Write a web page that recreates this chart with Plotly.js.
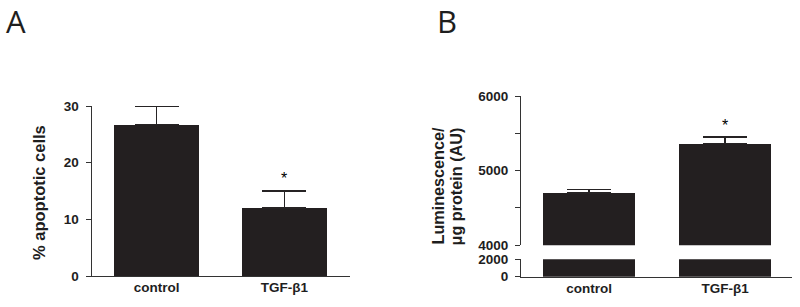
<!DOCTYPE html>
<html>
<head>
<meta charset="utf-8">
<script src="https://cdn.plot.ly/plotly-3.0.1.min.js"></script>
<style>html,body{margin:0;padding:0;background:#fff;}#chart{width:800px;height:307px;}</style>
</head>
<body>
<div id="chart"></div>
<script>
// ---- data ----
const categories = ['control', 'TGF-β1'];
const apoptotic = [26.7, 12.0];
const apoptoticErr = [3.3, 3.0];
const luminescence = [4700, 5360];
const luminescenceErr = [45, 90];
const significant = [false, true];

// ---- styles ----
const BAR = '#231f20';
const AX = '#333333';
const TXT = '#1e1e1e';
const FONT = 'Liberation Sans, Arial, sans-serif';
const W = 800, H = 307;
const px = v => v / W;
const py = v => 1 - v / H;

function errCfg(arr) {
  return {type: 'data', symmetric: false, array: arr, arrayminus: arr.map(() => 0),
          color: '#262324', thickness: 1.2, width: 22, visible: true};
}

const traces = [
  {type: 'bar', x: categories, y: apoptotic, xaxis: 'x', yaxis: 'y', width: 0.67,
   marker: {color: BAR, line: {width: 0}}, error_y: errCfg(apoptoticErr), hoverinfo: 'skip'},
  {type: 'bar', x: categories, y: luminescence, xaxis: 'x2', yaxis: 'y2', width: 0.67,
   marker: {color: BAR, line: {width: 0}}, error_y: errCfg(luminescenceErr), hoverinfo: 'skip'},
  {type: 'bar', x: categories, y: luminescence, xaxis: 'x2', yaxis: 'y3', width: 0.67,
   marker: {color: BAR, line: {width: 0}}, hoverinfo: 'skip'}
];

const tickFont = {family: FONT, size: 13.5, color: TXT, weight: 'bold'};
const xTickFont = {family: FONT, size: 13.5, color: TXT, weight: 'bold'};

const annotations = [
  {text: 'A', xref: 'paper', yref: 'paper', x: px(16), y: py(21), xanchor: 'center', yanchor: 'middle',
   showarrow: false, font: {family: 'Open Sans, Noto Sans, sans-serif', size: 31, color: TXT}},
  {text: 'B', xref: 'paper', yref: 'paper', x: px(446.5), y: py(21), xanchor: 'center', yanchor: 'middle',
   showarrow: false, font: {family: 'Open Sans, Noto Sans, sans-serif', size: 31, color: TXT}},
  {text: '% apoptotic cells', xref: 'paper', yref: 'paper', x: px(39), y: py(193), textangle: -90,
   xanchor: 'center', yanchor: 'middle', showarrow: false,
   font: {family: FONT, size: 16.5, color: TXT, weight: 'bold'}},
  {text: 'Luminescence/', xref: 'paper', yref: 'paper', x: px(437), y: py(247), textangle: -90,
   xanchor: 'center', yanchor: 'bottom', showarrow: false,
   font: {family: FONT, size: 16.2, color: TXT, weight: 'bold'}},
  {text: 'μg protein (AU)', xref: 'paper', yref: 'paper', x: px(455.5), y: py(248), textangle: -90,
   xanchor: 'center', yanchor: 'bottom', showarrow: false,
   font: {family: FONT, size: 16.2, color: TXT, weight: 'bold'}}
];

categories.forEach((c, i) => {
  if (!significant[i]) return;
  annotations.push({text: '*', xref: 'x', yref: 'y', x: c, y: apoptotic[i] + apoptoticErr[i],
    xanchor: 'center', yanchor: 'middle', yshift: 13, showarrow: false,
    font: {family: FONT, size: 16, color: '#000'}});
  annotations.push({text: '*', xref: 'x2', yref: 'y2', x: c, y: luminescence[i] + luminescenceErr[i],
    xanchor: 'center', yanchor: 'middle', yshift: 12, showarrow: false,
    font: {family: FONT, size: 16, color: '#000'}});
});

const layout = {
  width: W, height: H,
  margin: {l: 0, r: 0, t: 0, b: 0, pad: 0},
  paper_bgcolor: '#fff', plot_bgcolor: 'rgba(0,0,0,0)',
  showlegend: false,
  bargap: 0,
  xaxis: {domain: [px(91.5), px(350)], anchor: 'y', type: 'category', range: [-0.508, 1.512],
          showline: true, linecolor: AX, linewidth: 1, ticks: '', showgrid: false, zeroline: false,
          tickfont: xTickFont, ticklabelstandoff: -1, fixedrange: true},
  yaxis: {domain: [py(276), py(106)], anchor: 'x', range: [0, 30], tickvals: [0, 10, 20, 30],
          showline: true, linecolor: AX, linewidth: 1, ticks: 'outside', ticklen: 5, tickcolor: AX,
          tickwidth: 1, showgrid: false, zeroline: false, tickfont: tickFont, ticklabelstandoff: 4,
          fixedrange: true},
  xaxis2: {domain: [px(521), px(791.7)], anchor: 'y3', type: 'category', range: [-0.5, 1.49],
           showline: true, linecolor: AX, linewidth: 1, ticks: '', showgrid: false, zeroline: false,
           tickfont: xTickFont, ticklabelstandoff: -1, fixedrange: true},
  yaxis2: {domain: [py(245.3), py(96)], anchor: 'x2', range: [4000, 6000], tickvals: [4000, 5000, 6000],
           minor: {tickvals: [4500, 5500], ticks: 'outside', ticklen: 5, tickcolor: AX, tickwidth: 1, showgrid: false},
           showline: true, linecolor: AX, linewidth: 1, ticks: 'outside', ticklen: 5, tickcolor: AX,
           tickwidth: 1, showgrid: false, zeroline: false, tickfont: tickFont, ticklabelstandoff: 4,
           fixedrange: true},
  yaxis3: {domain: [py(276.7), py(259.3)], anchor: 'x2', range: [0, 2000], tickvals: [0, 2000],
           showline: true, linecolor: AX, linewidth: 1, ticks: 'outside', ticklen: 5, tickcolor: AX,
           tickwidth: 1, showgrid: false, zeroline: false, tickfont: tickFont, ticklabelstandoff: 4,
           fixedrange: true},
  annotations: annotations
};

Plotly.newPlot('chart', traces, layout, {staticPlot: true, displayModeBar: false});
</script>
</body>
</html>
